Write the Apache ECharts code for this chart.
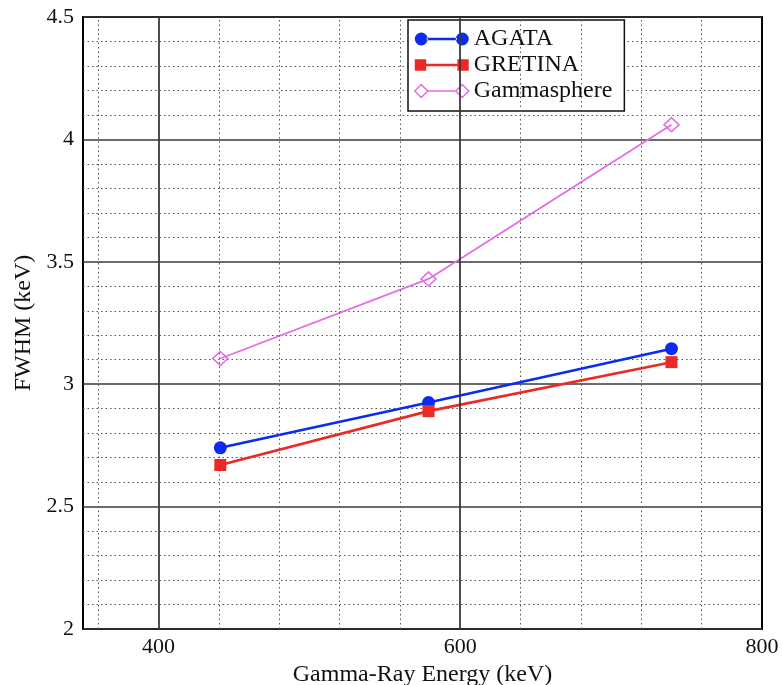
<!DOCTYPE html>
<html>
<head>
<meta charset="utf-8">
<script src="https://cdn.jsdelivr.net/npm/echarts@6/dist/echarts.min.js"></script>
<style>
  html, body { margin: 0; padding: 0; background: #fff; }
  #chart { width: 782px; height: 685px; }
</style>
</head>
<body>
<div id="chart"></div>
<script>
// Gamma-ray energies (keV) of the measured lines
const energies = [441, 579, 740];

// FWHM (keV) per detector array
const agata = [2.74, 2.925, 3.145];
const gretina = [2.67, 2.89, 3.09];
const gammasphere = [3.105, 3.43, 4.06];

// Axis ranges and labelled ticks
const xRange = [350, 800];
const xLabelTicks = [400, 600, 800];
const xMajorGrid = [400, 600];
const xMinorGrid = [360, 440, 480, 520, 560, 640, 680, 720, 760];
const yRange = [2, 4.5];
const yStep = 0.5;

const SERIF = '"Liberation Serif", "Times New Roman", serif';
const BLUE = '#0b2cf0';
const RED = '#ea2a26';
const MAGENTA = '#e66be6';

const pairs = (ys) => energies.map((x, i) => [x, ys[i]]);

// Legend icons: a short line with a marker at each end
const iconCircle = 'path://M0,6.5a6.5,6.5 0 1,0 13,0a6.5,6.5 0 1,0 -13,0Z' +
  'M41,6.5a6.5,6.5 0 1,0 13,0a6.5,6.5 0 1,0 -13,0Z M12,5.2H42V7.8H12Z';
const iconSquare = 'path://M1,1H12V12H1Z M42,1H53V12H42Z M11,5.2H43V7.8H11Z';
const iconDiamond = 'path://M0,6.5L6.5,0L13,6.5L6.5,13Z M41,6.5L47.5,0L54,6.5L47.5,13Z M13,6.5L41,6.5';

const chart = echarts.init(document.getElementById('chart'));
chart.setOption({
  backgroundColor: '#fff',
  animation: false,
  grid: {
    left: 83, right: 20, top: 17, bottom: 56,
    outerBoundsMode: 'none',
    containLabel: false,
    show: true, borderColor: '#000', borderWidth: 2, backgroundColor: 'transparent'
  },
  xAxis: {
    type: 'value',
    min: xRange[0], max: xRange[1],
    name: 'Gamma-Ray Energy (keV)',
    nameLocation: 'middle',
    nameGap: 28,
    nameTextStyle: { fontFamily: SERIF, fontSize: 24, color: '#111' },
    axisLine: { show: false },
    axisTick: { show: false },
    splitLine: { show: false },
    axisLabel: {
      customValues: xLabelTicks,
      fontFamily: SERIF, fontSize: 22, color: '#111', margin: 7
    }
  },
  yAxis: {
    type: 'value',
    min: yRange[0], max: yRange[1], interval: yStep,
    name: 'FWHM (keV)',
    nameLocation: 'middle',
    nameGap: 39,
    nameTextStyle: { fontFamily: SERIF, fontSize: 24, color: '#111' },
    axisLine: { show: false },
    axisTick: { show: false },
    axisLabel: { fontFamily: SERIF, fontSize: 22, color: '#111', margin: 9 },
    splitLine: { show: true, lineStyle: { color: '#3a3a3a', width: 1.6 } },
    minorTick: { show: false, splitNumber: 5 },
    minorSplitLine: { show: true, lineStyle: { color: '#555', width: 1, type: [1.5, 3] } }
  },
  legend: {
    left: 408, top: 20,
    orient: 'vertical',
    backgroundColor: '#fff',
    borderColor: '#111', borderWidth: 1.5,
    padding: [7, 12, 8, 6],
    itemWidth: 54, itemHeight: 13, itemGap: 2,
    textStyle: { fontFamily: SERIF, fontSize: 24, color: '#111' },
    data: [
      { name: 'AGATA', icon: iconCircle, itemStyle: { color: BLUE } },
      { name: 'GRETINA', icon: iconSquare, itemStyle: { color: RED } },
      { name: 'Gammasphere', icon: iconDiamond,
        itemStyle: { color: 'rgba(0,0,0,0)', borderColor: MAGENTA, borderWidth: 1.5 } }
    ]
  },
  series: [
    {
      // vertical grid lines of the x axis
      type: 'line', data: [], z: 1, silent: true,
      markLine: {
        silent: true, symbol: 'none', animation: false,
        label: { show: false },
        data: xMajorGrid.map(v => ({ xAxis: v, lineStyle: { color: '#3a3a3a', width: 1.8, type: 'solid' } }))
          .concat(xMinorGrid.map(v => ({ xAxis: v, lineStyle: { color: '#555', width: 1, type: [1.5, 3] } })))
      }
    },
    {
      name: 'AGATA', type: 'line', z: 4,
      data: pairs(agata),
      symbol: 'circle', symbolSize: 13,
      itemStyle: { color: BLUE },
      lineStyle: { color: BLUE, width: 2.6 }
    },
    {
      name: 'GRETINA', type: 'line', z: 4,
      data: pairs(gretina),
      symbol: 'rect', symbolSize: 12,
      itemStyle: { color: RED },
      lineStyle: { color: RED, width: 2.6 }
    },
    {
      name: 'Gammasphere', type: 'line', z: 4,
      data: pairs(gammasphere),
      symbol: 'diamond', symbolSize: [15, 14],
      itemStyle: { color: 'rgba(0,0,0,0)', borderColor: MAGENTA, borderWidth: 1.6 },
      lineStyle: { color: MAGENTA, width: 1.8 }
    }
  ]
});
</script>
</body>
</html>
